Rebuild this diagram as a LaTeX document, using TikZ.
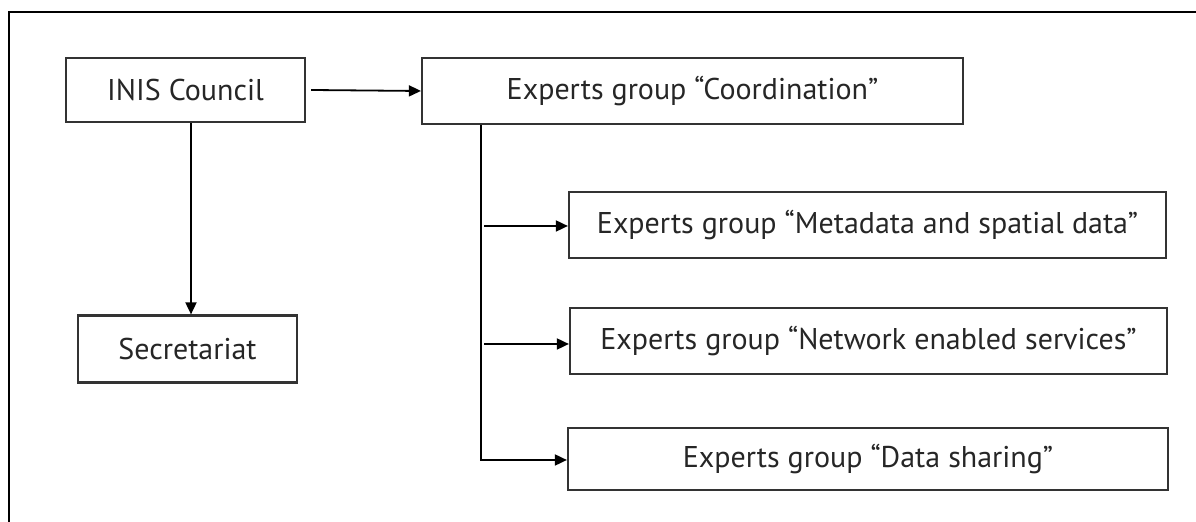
\documentclass[tikz,border=0pt]{standalone}
\usepackage{fontspec}
\setmainfont{PT Sans}
\usetikzlibrary{arrows.meta}
\definecolor{ink}{HTML}{333333}
\definecolor{txt}{HTML}{262626}
\tikzset{
  x=0.5pt, y=-0.5pt,
  box/.style={draw=ink, line width=1.1pt, rectangle, inner sep=0pt, text=txt, font=\fontsize{15}{17}\selectfont},
  conn/.style={draw=black, line width=0.9pt, -{Triangle[length=6pt,width=5.5pt]}},
  frameline/.style={draw=black, line width=1pt}
}
\begin{document}
\begin{tikzpicture}
\useasboundingbox (0,0) rectangle (1196,522);
\draw[frameline] (9,522) -- (9,12) -- (1196,12);
\node[box, minimum width=119.5pt, minimum height=32pt] (inis) at (185.5,90) {INIS Council};
\node[box, minimum width=270.5pt, minimum height=33pt] (coord) at (692.5,91) {Experts group “Coordination”};
\node[box, minimum width=298.5pt, minimum height=33pt] (meta) at (867.5,225) {Experts group “Metadata and spatial data”};
\node[box, minimum width=298.5pt, minimum height=33pt] (net) at (868.5,341) {Experts group “Network enabled services”};
\node[box, minimum width=300pt, minimum height=31pt] (share) at (868,459) {Experts group “Data sharing”};
\node[box, minimum width=109.5pt, minimum height=33.5pt] (sec) at (187.5,349) {Secretariat};
\coordinate (trunk) at (481,124);
\coordinate (b1) at (484,226);
\coordinate (b2) at (484,344);
\coordinate (corner) at (481,460);
\draw[conn] ([xshift=2.5pt]inis.east) -- (coord.west);
\draw[conn] (inis.south -| 191,0) -- (sec.north -| 191,0);
\draw[conn] (coord.south -| trunk) -- (corner) -- (share.west |- corner);
\draw[conn] (b1) -- (meta.west |- b1);
\draw[conn] (b2) -- (net.west |- b2);
\end{tikzpicture}
\end{document}
